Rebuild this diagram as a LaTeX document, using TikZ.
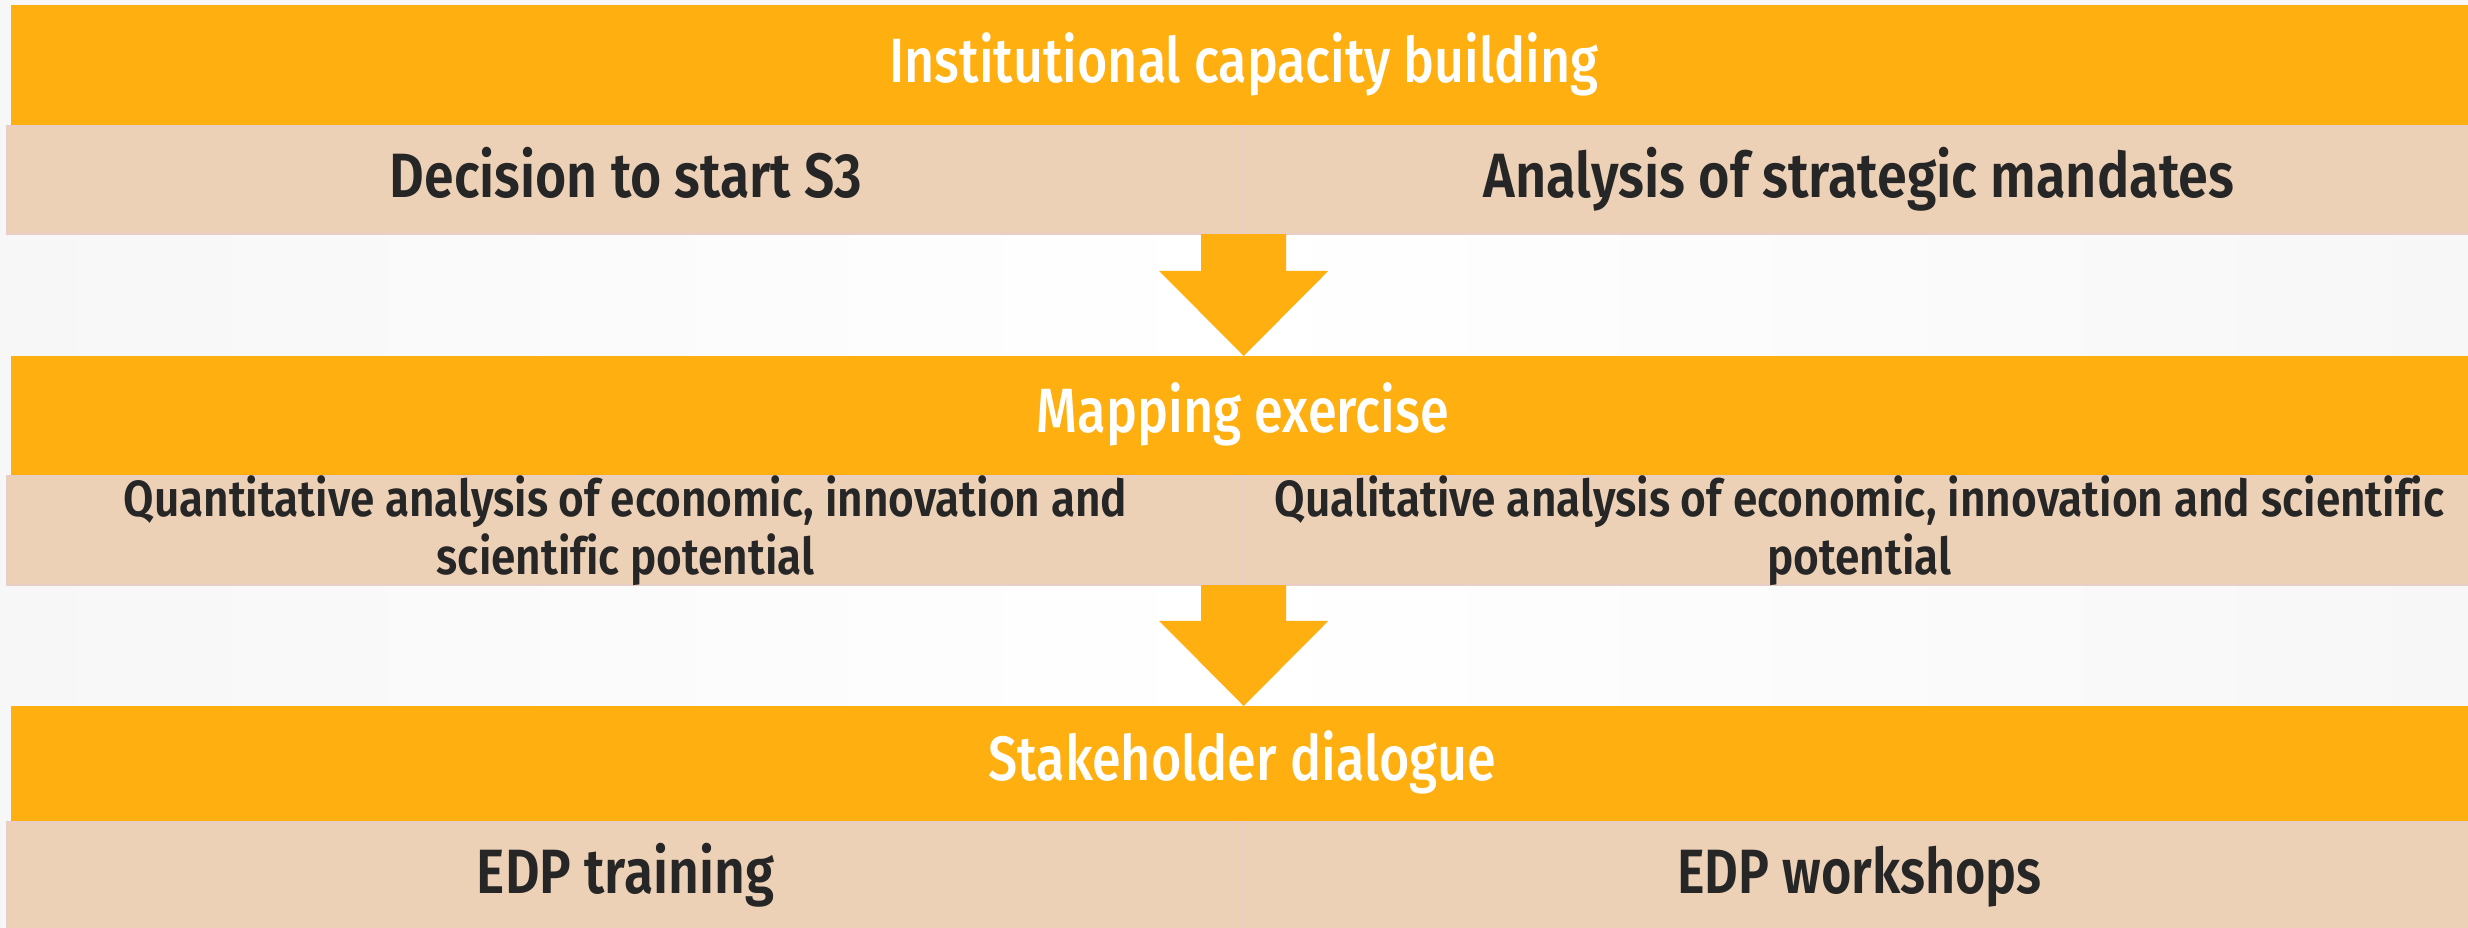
\documentclass[tikz,border=0pt]{standalone}
\usepackage{fontspec}
\setmainfont{Fira Sans}
\newfontfamily\medfont{Fira Sans Medium}[Ligatures=NoCommon]
\newfontfamily\semifont{Fira Sans SemiBold}[Ligatures=NoCommon]
\usepackage{graphicx}
\usetikzlibrary{calc}
\definecolor{eorange}{HTML}{FFAF10}
\definecolor{ebeige}{HTML}{EDD1B7}
\definecolor{eline}{HTML}{E8CEC6}
\definecolor{etext}{HTML}{262626}
\definecolor{ebg}{HTML}{F7F7F7}
\newcommand\fitw[2]{\resizebox{#1}{\height}{#2}}
\tikzset{
  band/.style={rectangle, fill=eorange, inner sep=0pt, outer sep=0pt, anchor=north west, minimum height=#1},
  cell/.style={rectangle, fill=ebeige, draw=eline, line width=0.02cm, inner sep=0pt, outer sep=0pt, anchor=north west, minimum height=#1},
  title/.style={anchor=base, inner sep=0pt, text=white, font=\medfont\fontsize{17.8}{20}\selectfont},
  sub/.style={anchor=base, inner sep=0pt, text=etext, font=\semifont\fontsize{17.8}{20}\selectfont},
  subtwo/.style={anchor=base, inner sep=0pt, text=etext, font=\semifont\fontsize{14.45}{15.65}\selectfont},
  downarrow/.style={fill=eorange}
}
\begin{document}
\begin{tikzpicture}[x=0.01cm,y=-0.01cm]
\fill[ebg] (0,0) rectangle (2468,928);
\useasboundingbox (0,0) rectangle (2468,928);
\shade[left color=ebg, right color=ebg, middle color=white] (0,234) rectangle (2468,356);
\shade[left color=ebg, right color=ebg, middle color=white] (0,585) rectangle (2468,706);

% row 1
\node[band=1.21cm, minimum width=24.57cm] (b1) at (11,5) {};
\node[cell=1.08cm, minimum width=12.36cm] (c1a) at (7,126) {};
\node[cell=1.08cm, minimum width=12.30cm] (c1b) at (1243,126) {};
% row 2
\node[band=1.20cm, minimum width=24.57cm] (b2) at (11,356) {};
\node[cell=1.09cm, minimum width=12.36cm] (c2a) at (7,476) {};
\node[cell=1.09cm, minimum width=12.30cm] (c2b) at (1243,476) {};
% row 3
\node[band=1.16cm, minimum width=24.57cm] (b3) at (11,706) {};
\node[cell=1.10cm, minimum width=12.36cm] (c3a) at (7,822) {};
\node[cell=1.10cm, minimum width=12.30cm] (c3b) at (1243,822) {};

% arrows
\coordinate (t1) at (c1a.south east |- b2.north);
\fill[downarrow] ($(c1a.south east)+(-42.5,0)$) -- ($(t1)+(-42.5,-85)$) -- ($(t1)+(-84.5,-85)$) -- (t1)
  -- ($(t1)+(84.5,-85)$) -- ($(t1)+(42.5,-85)$) -- ($(c1a.south east)+(42.5,0)$) -- cycle;
\coordinate (t2) at (c2a.south east |- b3.north);
\fill[downarrow] ($(c2a.south east)+(-42.5,0)$) -- ($(t2)+(-42.5,-85)$) -- ($(t2)+(-84.5,-85)$) -- (t2)
  -- ($(t2)+(84.5,-85)$) -- ($(t2)+(42.5,-85)$) -- ($(c2a.south east)+(42.5,0)$) -- cycle;

% texts
\node[title] (tb1) at (1244,83) {\fitw{7.09cm}{Institutional capacity building}};
\node[sub] (tc1a) at (626,198) {\fitw{4.72cm}{Decision to start S3}};
\node[sub] (tc1b) at (1859,198) {\fitw{7.50cm}{Analysis of strategic mandates}};
\node[title] (tb2) at (1243,433) {\fitw{4.12cm}{Mapping exercise}};
\node[subtwo] (tc2a) at (625.5,517) {\fitw{10.03cm}{\begin{tabular}[t]{@{}c@{}}Quantitative analysis of economic, innovation and\\ scientific potential\end{tabular}}};
\node[subtwo] (tc2b) at (1859.5,517) {\fitw{11.69cm}{\begin{tabular}[t]{@{}c@{}}Qualitative analysis of economic, innovation and scientific\\ potential\end{tabular}}};
\node[title] (tb3) at (1242,781) {\fitw{5.07cm}{Stakeholder dialogue}};
\node[sub] (tc3a) at (625.5,894) {\fitw{2.97cm}{EDP training}};
\node[sub] (tc3b) at (1859.5,894) {\fitw{3.64cm}{EDP workshops}};
\end{tikzpicture}
\end{document}
